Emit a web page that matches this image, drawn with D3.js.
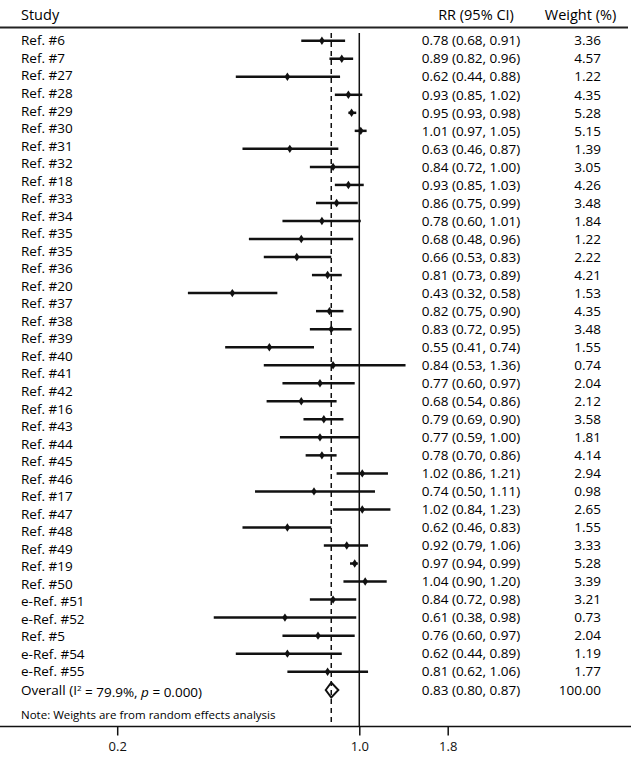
<!DOCTYPE html>
<html>
<head>
<meta charset="utf-8">
<script src="https://cdn.jsdelivr.net/npm/d3@7"></script>
<style>
  body { margin: 0; background: #fff; }
  svg { display: block; font-family: "Open Sans", sans-serif; }
</style>
</head>
<body>
<div id="chart"></div>
<script>
// study labels (the figure lists one more label than estimate rows)
var studies = ['Ref. #6', 'Ref. #7', 'Ref. #27', 'Ref. #28', 'Ref. #29', 'Ref. #30', 'Ref. #31', 'Ref. #32',
	'Ref. #18', 'Ref. #33', 'Ref. #34', 'Ref. #35', 'Ref. #35', 'Ref. #36', 'Ref. #20', 'Ref. #37', 'Ref. #38',
	'Ref. #39', 'Ref. #40', 'Ref. #41', 'Ref. #42', 'Ref. #16', 'Ref. #43', 'Ref. #44', 'Ref. #45', 'Ref. #46',
	'Ref. #17', 'Ref. #47', 'Ref. #48', 'Ref. #49', 'Ref. #19', 'Ref. #50', 'e-Ref. #51', 'e-Ref. #52', 'Ref. #5',
	'e-Ref. #54', 'e-Ref. #55'];

var rr = [0.78, 0.89, 0.62, 0.93, 0.95, 1.01, 0.63, 0.84, 0.93, 0.86, 0.78, 0.68, 0.66, 0.81, 0.43, 0.82, 0.83, 0.55,
	0.84, 0.77, 0.68, 0.79, 0.77, 0.78, 1.02, 0.74, 1.02, 0.62, 0.92, 0.97, 1.04, 0.84, 0.61, 0.76, 0.62, 0.81];
var lower = [0.68, 0.82, 0.44, 0.85, 0.93, 0.97, 0.46, 0.72, 0.85, 0.75, 0.60, 0.48, 0.53, 0.73, 0.32, 0.75, 0.72, 0.41,
	0.53, 0.60, 0.54, 0.69, 0.59, 0.70, 0.86, 0.50, 0.84, 0.46, 0.79, 0.94, 0.90, 0.72, 0.38, 0.60, 0.44, 0.62];
var upper = [0.91, 0.96, 0.88, 1.02, 0.98, 1.05, 0.87, 1.00, 1.03, 0.99, 1.01, 0.96, 0.83, 0.89, 0.58, 0.90, 0.95, 0.74,
	1.36, 0.97, 0.86, 0.90, 1.00, 0.86, 1.21, 1.11, 1.23, 0.83, 1.06, 0.99, 1.20, 0.98, 0.98, 0.97, 0.89, 1.06];
var weights = [3.36, 4.57, 1.22, 4.35, 5.28, 5.15, 1.39, 3.05, 4.26, 3.48, 1.84, 1.22, 2.22, 4.21, 1.53, 4.35, 3.48, 1.55,
	0.74, 2.04, 2.12, 3.58, 1.81, 4.14, 2.94, 0.98, 2.65, 1.55, 3.33, 5.28, 3.39, 3.21, 0.73, 2.04, 1.19, 1.77];

var overall = {rr: 0.83, lower: 0.80, upper: 0.87, weight: 100.00, i2: '79.9%', p: '0.000'};
var xTicks = [0.2, 1.0, 1.8];

var width = 631, height = 758,
	fontSize = 13.5,
	f2 = d3.format('.2f');

var svg = d3.select('#chart').append('svg')
	.attr('width', width)
	.attr('height', height);

var rows = rr.map(function (d, i) {
	return {rr: d, lower: lower[i], upper: upper[i], weight: weights[i]};
});

var x = d3.scaleLog().domain([0.2, 1.8]).range([117.2, 447.7]);
var yRow = d3.scaleLinear().domain([0, rows.length - 1]).range([40.7, 671.7]);
var yLabel = d3.scaleLinear().domain([0, studies.length - 1]).range([40.7, 671.7]);
var yOverall = 690;
var plotTop = 33, axisY = 726.5;

// header
var header = svg.append('g').attr('class', 'header').style('font-size', '14.5px');
header.append('text').attr('x', 21).attr('y', 15).attr('dy', '.35em').text('Study');
header.append('text').attr('x', 476).attr('y', 15).attr('dy', '.35em').attr('text-anchor', 'middle').text('RR (95% CI)');
header.append('text').attr('x', 580.5).attr('y', 15).attr('dy', '.35em').attr('text-anchor', 'middle').text('Weight (%)');
svg.append('line')
	.attr('x1', 0).attr('x2', 628)
	.attr('y1', 27.5).attr('y2', 27.5)
	.style('stroke', '#222').style('stroke-width', 2);

// reference lines
svg.append('line')
	.attr('x1', x(overall.rr)).attr('x2', x(overall.rr))
	.attr('y1', plotTop).attr('y2', axisY)
	.style('stroke', '#111').style('stroke-width', 1.5)
	.style('stroke-dasharray', '5,4');
svg.append('line')
	.attr('x1', x(1)).attr('x2', x(1))
	.attr('y1', plotTop).attr('y2', axisY)
	.style('stroke', '#111').style('stroke-width', 1.5);

// study labels
svg.append('g').selectAll('text').data(studies).enter().append('text')
	.attr('x', 21)
	.attr('y', function (d, i) { return yLabel(i); })
	.attr('dy', '.35em')
	.style('font-size', fontSize + 'px')
	.text(function (d) { return d; });

// estimates
var rowg = svg.append('g').selectAll('g').data(rows).enter().append('g')
	.attr('transform', function (d, i) { return 'translate(0,' + yRow(i) + ')'; });

rowg.append('line')
	.attr('x1', function (d) { return x(d.lower); })
	.attr('x2', function (d) { return x(d.upper); })
	.style('stroke', '#111').style('stroke-width', 2.5);

rowg.append('path')
	.attr('d', function (d) { var cx = x(d.rr); return 'M' + (cx - 2.8) + ',0L' + cx + ',-4.2L' + (cx + 2.8) + ',0L' + cx + ',4.2Z'; })
	.style('fill', '#111');

rowg.append('text')
	.attr('x', 421.7).attr('dy', '.35em')
	.style('font-size', fontSize + 'px')
	.text(function (d) { return f2(d.rr) + ' (' + f2(d.lower) + ', ' + f2(d.upper) + ')'; });

rowg.append('text')
	.attr('x', 601).attr('dy', '.35em')
	.attr('text-anchor', 'end')
	.style('font-size', fontSize + 'px')
	.text(function (d) { return f2(d.weight); });

// overall row
var ov = svg.append('g').attr('transform', 'translate(0,' + yOverall + ')').style('font-size', fontSize + 'px');
var ovLabel = ov.append('text').attr('x', 21).attr('dy', '.35em');
ovLabel.append('tspan').text('Overall (I');
ovLabel.append('tspan').attr('dy', '-0.45em').style('font-size', '8px').text('2');
ovLabel.append('tspan').attr('dy', '0.45em').text(' = ' + overall.i2 + ', ');
ovLabel.append('tspan').style('font-style', 'italic').text('p');
ovLabel.append('tspan').text(' = ' + overall.p + ')');

ov.append('path')
	.attr('d', 'M' + x(overall.lower) + ',0L' + x(overall.rr) + ',-7.5L' + x(overall.upper) + ',0L' + x(overall.rr) + ',7.5Z')
	.style('fill', 'none').style('stroke', '#111').style('stroke-width', 2);
ov.append('text')
	.attr('x', 421.7).attr('dy', '.35em')
	.text(f2(overall.rr) + ' (' + f2(overall.lower) + ', ' + f2(overall.upper) + ')');
ov.append('text')
	.attr('x', 601).attr('dy', '.35em').attr('text-anchor', 'end')
	.text(f2(overall.weight));

svg.append('text')
	.attr('x', 21).attr('y', 715).attr('dy', '.35em')
	.style('font-size', '11.5px')
	.text('Note: Weights are from random effects analysis');

// x axis
var axisG = svg.append('g')
	.attr('transform', 'translate(0,' + axisY + ')')
	.call(d3.axisBottom(x).tickValues(xTicks).tickFormat(d3.format('.1f')).tickSize(9).tickPadding(6));
axisG.select('.domain').attr('d', 'M0,0H' + width).style('stroke', '#111').style('stroke-width', 1.5);
axisG.selectAll('.tick line').style('stroke', '#111').style('stroke-width', 1.5);
axisG.selectAll('.tick text').style('font-family', '"Open Sans", sans-serif').style('font-size', '13px').style('fill', '#111');
</script>
</body>
</html>
